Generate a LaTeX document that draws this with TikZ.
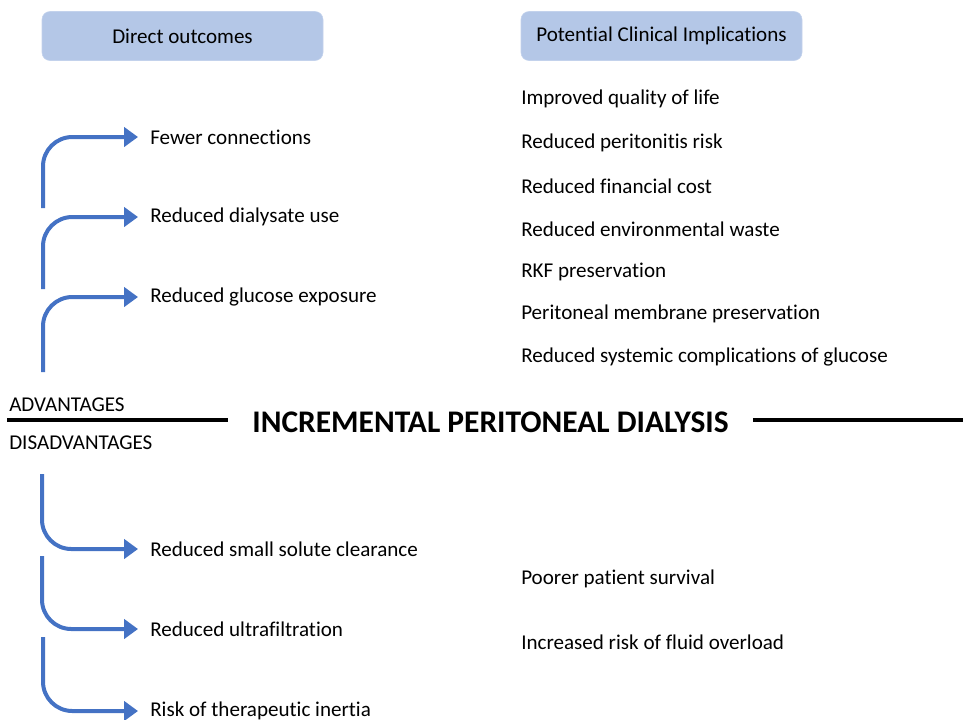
\documentclass[tikz,border=0pt]{standalone}
\usepackage{fontspec}
\setmainfont{Carlito}[Ligatures=NoCommon]
\usepackage{tikz}
\usetikzlibrary{arrows.meta}
\definecolor{hdrfill}{HTML}{B4C7E7}
\definecolor{arrblue}{HTML}{4472C4}
\tikzstyle{hdr} = [fill=hdrfill, draw=hdrfill!80!white, rounded corners=6pt, minimum width=210.75pt, minimum height=36.75pt, font=\fontsize{15.8}{18}\selectfont]
\tikzstyle{item} = [anchor=west, inner sep=0pt, font=\fontsize{15.8}{18}\selectfont]
\tikzstyle{outc} = [anchor=west, inner xsep=9pt, inner ysep=0pt, font=\fontsize{15.8}{18}\selectfont]
\tikzstyle{bendarrow} = [draw=arrblue, line width=3pt, rounded corners=22pt, -{Triangle[length=10.5pt,width=14.5pt]}]
\tikzstyle{rule} = [draw, line width=2.8pt]

\begin{document}
\begin{tikzpicture}[x=0.75pt, y=-0.75pt]
            \useasboundingbox (0,0) rectangle (963,719);
                % headers
                \node [hdr] (dirhdr) at (182.5,36) {Direct outcomes};
                \node [hdr] (clinhdr) at (661.5,36) {Potential Clinical Implications};
                % direct outcomes, advantages
                \node [outc] (fewer) at (138,137) {Fewer connections};
                \node [outc] (dialys) at (138,217) {Reduced dialysate use};
                \node [outc] (gluc) at (138,297) {Reduced glucose exposure};
                \coordinate (s1) at (43,208);
                \coordinate (s2) at (43,289);
                \coordinate (s3) at (43,372);
                \path [bendarrow] (s1) |- (fewer);
                \path [bendarrow] (s2) |- (dialys);
                \path [bendarrow] (s3) |- (gluc);
                % clinical implications
                \node [item] (qol) at (521,99) {Improved quality of life};
                \node [item] (perit) at (521,143) {Reduced peritonitis risk};
                \node [item] (cost) at (521,186) {Reduced financial cost};
                \node [item] (waste) at (521,229) {Reduced environmental waste};
                \node [item] (rkf) at (521,272) {RKF preservation};
                \node [item] (memb) at (521,314) {Peritoneal membrane preservation};
                \node [item] (syst) at (521,357) {Reduced systemic complications of glucose};
                % middle
                \node [item] (adv) at (9,405) {ADVANTAGES};
                \node [item] (disadv) at (9,443) {DISADVANTAGES};
                \node [font=\fontsize{23.6}{28}\bfseries\selectfont, inner sep=0pt] (ipd) at (490.5,422) {INCREMENTAL PERITONEAL DIALYSIS};
                \coordinate (lstart) at (7,420);
                \coordinate (rend) at (963,420);
                \path [rule] (lstart) -- ([xshift=-18]ipd.west |- lstart);
                \path [rule] ([xshift=18]ipd.east |- rend) -- (rend);
                % direct outcomes, disadvantages
                \node [outc] (clear) at (138,549) {Reduced small solute clearance};
                \node [outc] (uf) at (138,629) {Reduced ultrafiltration};
                \node [outc] (inert) at (138,711) {Risk of therapeutic inertia};
                \coordinate (t1) at (42,474);
                \coordinate (t2) at (42,556);
                \coordinate (t3) at (43,637);
                \path [bendarrow] (t1) |- (clear);
                \path [bendarrow] (t2) |- (uf);
                \path [bendarrow] (t3) |- (inert);
                \node [item] (surv) at (521,579) {Poorer patient survival};
                \node [item] (fluid) at (521,642) {Increased risk of fluid overload};
            \end{tikzpicture}
\end{document}
